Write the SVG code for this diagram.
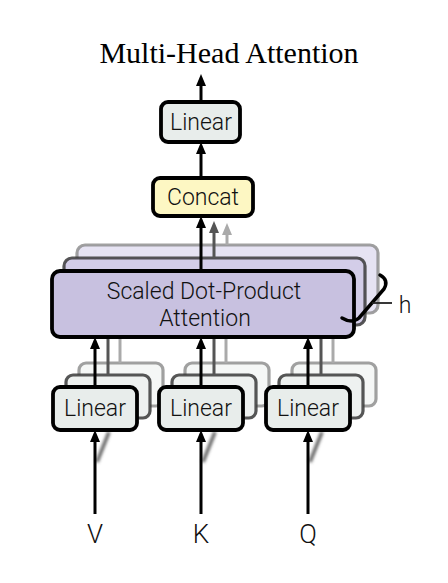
<svg xmlns="http://www.w3.org/2000/svg" width="448" height="583" viewBox="0 0 448 583">
<defs>
<style>
.lbl{font-family:Roboto,"Liberation Sans",Arial,sans-serif;font-weight:300;font-size:23px;fill:#111;text-anchor:middle}
.io{font-family:Roboto,"Liberation Sans",Arial,sans-serif;font-weight:300;font-size:26px;fill:#111;text-anchor:middle}
.title{font-family:"Liberation Serif","Times New Roman",serif;font-size:30px;fill:#000;text-anchor:middle}
.front{stroke:#000;stroke-width:3.8}
.b1{stroke:#3a3a3a;stroke-width:3.2;stroke-opacity:0.85}
.b2{stroke:#8a8a8a;stroke-width:3.2;stroke-opacity:0.8}
.lin{fill:#e8edeb}
.lin1{fill:#eef1f0}
.lin2{fill:#f5f7f6}
.sdpa{fill:#c8c1e0}
.sdpa1{fill:#d3cde8}
.sdpa2{fill:#e6e3f3}
.con{fill:#fdf7c3}
.arr{stroke:#000;stroke-width:3;fill:none}
.arrg1{stroke:#555;stroke-width:3;fill:none}
.arrg2{stroke:#aaa;stroke-width:3;fill:none}
</style>
<filter id="soft" x="-10%" y="-10%" width="120%" height="120%"><feGaussianBlur stdDeviation="0.7"/></filter>
<filter id="shadow" x="-50%" y="-50%" width="200%" height="200%"><feGaussianBlur stdDeviation="1.4"/></filter>
<marker id="ah" viewBox="0 0 12 10" refX="3" refY="5" markerWidth="12" markerHeight="10" markerUnits="userSpaceOnUse" orient="auto"><path d="M0,0 L12,5 L0,10 z" fill="#000"/></marker>
<marker id="ahg1" viewBox="0 0 12 10" refX="3" refY="5" markerWidth="12" markerHeight="10" markerUnits="userSpaceOnUse" orient="auto"><path d="M0,0 L12,5 L0,10 z" fill="#555"/></marker>
<marker id="ahg2" viewBox="0 0 12 10" refX="3" refY="5" markerWidth="12" markerHeight="10" markerUnits="userSpaceOnUse" orient="auto"><path d="M0,0 L12,5 L0,10 z" fill="#aaa"/></marker>
</defs>
<rect width="448" height="583" fill="#fff"/>

<text class="title" x="229" y="63">Multi-Head Attention</text>

<g id="back-layers">
  <g filter="url(#soft)">
    <rect class="sdpa2 b2" x="77" y="245" width="301" height="68" rx="8"/>
    <rect class="lin2 b2" x="79" y="363" width="84" height="43" rx="7"/>
    <rect class="lin2 b2" x="185" y="363" width="84" height="43" rx="7"/>
    <rect class="lin2 b2" x="292" y="363" width="84" height="43" rx="7"/>
  </g>
  <g filter="url(#soft)">
    <rect class="sdpa1 b1" x="64" y="258" width="301" height="67" rx="8"/>
    <rect class="lin1 b1" x="66" y="375" width="84" height="43" rx="7"/>
    <rect class="lin1 b1" x="172" y="375" width="84" height="43" rx="7"/>
    <rect class="lin1 b1" x="279" y="375" width="84" height="43" rx="7"/>
  </g>
</g>

<g id="connectors">
  <g filter="url(#soft)">
    <line class="arrg2" x1="120" y1="363" x2="120" y2="313"/>
    <line class="arrg2" x1="226" y1="363" x2="226" y2="313"/>
    <line class="arrg2" x1="333" y1="363" x2="333" y2="313"/>
    <line class="arrg1" x1="108" y1="375" x2="108" y2="325"/>
    <line class="arrg1" x1="214" y1="375" x2="214" y2="325"/>
    <line class="arrg1" x1="321" y1="375" x2="321" y2="325"/>
  </g>
  <g filter="url(#shadow)" stroke="#666" stroke-width="3.5" fill="none">
    <line x1="97" y1="462" x2="109" y2="432"/>
    <line x1="203" y1="462" x2="215" y2="432"/>
    <line x1="310" y1="462" x2="322" y2="432"/>
  </g>
  <line class="arrg2" x1="227" y1="245" x2="227" y2="232" marker-end="url(#ahg2)"/>
  <line class="arrg1" x1="214" y1="258" x2="214" y2="230" marker-end="url(#ahg1)"/>
  <line class="arr" x1="201" y1="271" x2="201" y2="225" marker-end="url(#ah)"/>
  <line class="arr" x1="201" y1="178" x2="201" y2="151" marker-end="url(#ah)"/>
  <line class="arr" x1="201" y1="102" x2="201" y2="83" marker-end="url(#ah)"/>
  <line class="arr" x1="95" y1="387" x2="95" y2="346" marker-end="url(#ah)"/>
  <line class="arr" x1="201" y1="387" x2="201" y2="346" marker-end="url(#ah)"/>
  <line class="arr" x1="308" y1="387" x2="308" y2="346" marker-end="url(#ah)"/>
  <line class="arr" x1="95" y1="514" x2="95" y2="439" marker-end="url(#ah)"/>
  <line class="arr" x1="201" y1="514" x2="201" y2="439" marker-end="url(#ah)"/>
  <line class="arr" x1="308" y1="514" x2="308" y2="439" marker-end="url(#ah)"/>
</g>

<g id="sdpa">
  <rect class="sdpa front" x="52" y="271" width="302" height="66" rx="8"/>
  <text class="lbl" x="204" y="299">Scaled Dot-Product</text>
  <text class="lbl" x="205" y="326">Attention</text>
</g>

<g id="brace">
  <path d="M380,275 Q389,280 384,289 L359,318 Q352,324 342,318" fill="none" stroke="#000" stroke-width="3.5" stroke-linecap="round"/>
  <line x1="372" y1="303" x2="392" y2="303" stroke="#222" stroke-width="1.8"/>
  <text class="lbl" x="405" y="313">h</text>
</g>

<g id="concat">
  <rect class="con front" x="153" y="178" width="100" height="38" rx="7"/>
  <text class="lbl" x="203" y="205">Concat</text>
</g>

<g id="linear-out">
  <rect class="lin front" x="161" y="102" width="79" height="40" rx="7"/>
  <text class="lbl" x="201" y="130">Linear</text>
</g>

<g id="linear-v">
  <rect class="lin front" x="53" y="387" width="84" height="43" rx="7"/>
  <text class="lbl" x="95" y="416">Linear</text>
</g>
<g id="linear-k">
  <rect class="lin front" x="159" y="387" width="84" height="43" rx="7"/>
  <text class="lbl" x="201" y="416">Linear</text>
</g>
<g id="linear-q">
  <rect class="lin front" x="266" y="387" width="84" height="43" rx="7"/>
  <text class="lbl" x="308" y="416">Linear</text>
</g>

<g id="inputs">
  <text class="io" x="95" y="543">V</text>
  <text class="io" x="201" y="543">K</text>
  <text class="io" x="308" y="543">Q</text>
</g>
</svg>
